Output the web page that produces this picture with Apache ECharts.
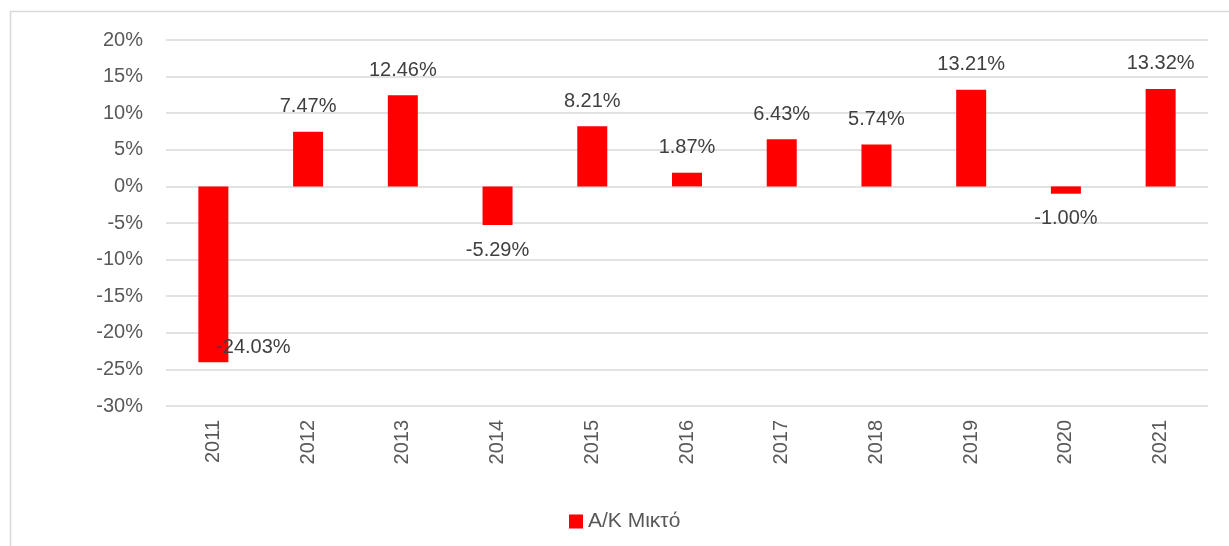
<!DOCTYPE html>
<html>
<head>
<meta charset="utf-8">
<script src="https://cdn.jsdelivr.net/npm/echarts@6/dist/echarts.min.js"></script>
<style>
  html, body { margin: 0; padding: 0; background: #fff; }
  #chart { width: 1229px; height: 546px; }
</style>
</head>
<body>
<div id="chart"></div>
<script>
// data
const years = ['2011', '2012', '2013', '2014', '2015', '2016', '2017', '2018', '2019', '2020', '2021'];
const returns = [-24.03, 7.47, 12.46, -5.29, 8.21, 1.87, 6.43, 5.74, 13.21, -1.00, 13.32];
const seriesName = 'Α/Κ Μικτό';

const font = '"Liberation Sans", Arial, sans-serif';

let myChart = echarts.init(document.getElementById('chart'));

const barData = returns.map((v, i) => {
  let label = { position: v >= 0 ? 'top' : 'bottom' };
  // the lowest label is pushed back inside the plot, like in the original
  if (i === 0) {
    label.offset = [40, -40];
  }
  return { value: v, label: label };
});

let option = {
  animation: false,
  textStyle: { fontFamily: font },
  graphic: [{
    type: 'rect',
    left: 8, top: 9,
    shape: { width: 1240, height: 560 },
    style: { fill: 'none', stroke: '#d9d9d9', lineWidth: 1.5 },
    silent: true
  }],
  grid: {
    left: 166,
    right: 21,
    top: 40,
    bottom: 140
  },
  legend: {
    bottom: 9,
    left: 564,
    itemWidth: 14,
    itemHeight: 14,
    icon: 'rect',
    textStyle: { color: '#595959', fontSize: 21, fontFamily: font },
    data: [seriesName]
  },
  xAxis: {
    type: 'category',
    data: years,
    axisLine: { show: false, onZero: false },
    axisTick: { show: false },
    axisLabel: {
      rotate: 90,
      margin: 14,
      color: '#595959',
      fontSize: 20,
      fontFamily: font
    }
  },
  yAxis: {
    type: 'value',
    min: -30,
    max: 20,
    interval: 5,
    axisLine: { show: false },
    axisTick: { show: false },
    axisLabel: {
      formatter: '{value}%',
      margin: 23,
      color: '#595959',
      fontSize: 20,
      fontFamily: font
    },
    splitLine: { lineStyle: { color: '#d9d9d9', width: 1.5 } }
  },
  series: [{
    name: seriesName,
    type: 'bar',
    barWidth: 30,
    itemStyle: { color: '#ff0000' },
    label: {
      show: true,
      distance: 15,
      color: '#404040',
      fontSize: 20,
      fontFamily: font,
      formatter: p => p.value.toFixed(2) + '%'
    },
    data: barData
  }]
};

myChart.setOption(option);
window.addEventListener('resize', () => { myChart.resize() });
</script>
</body>
</html>
